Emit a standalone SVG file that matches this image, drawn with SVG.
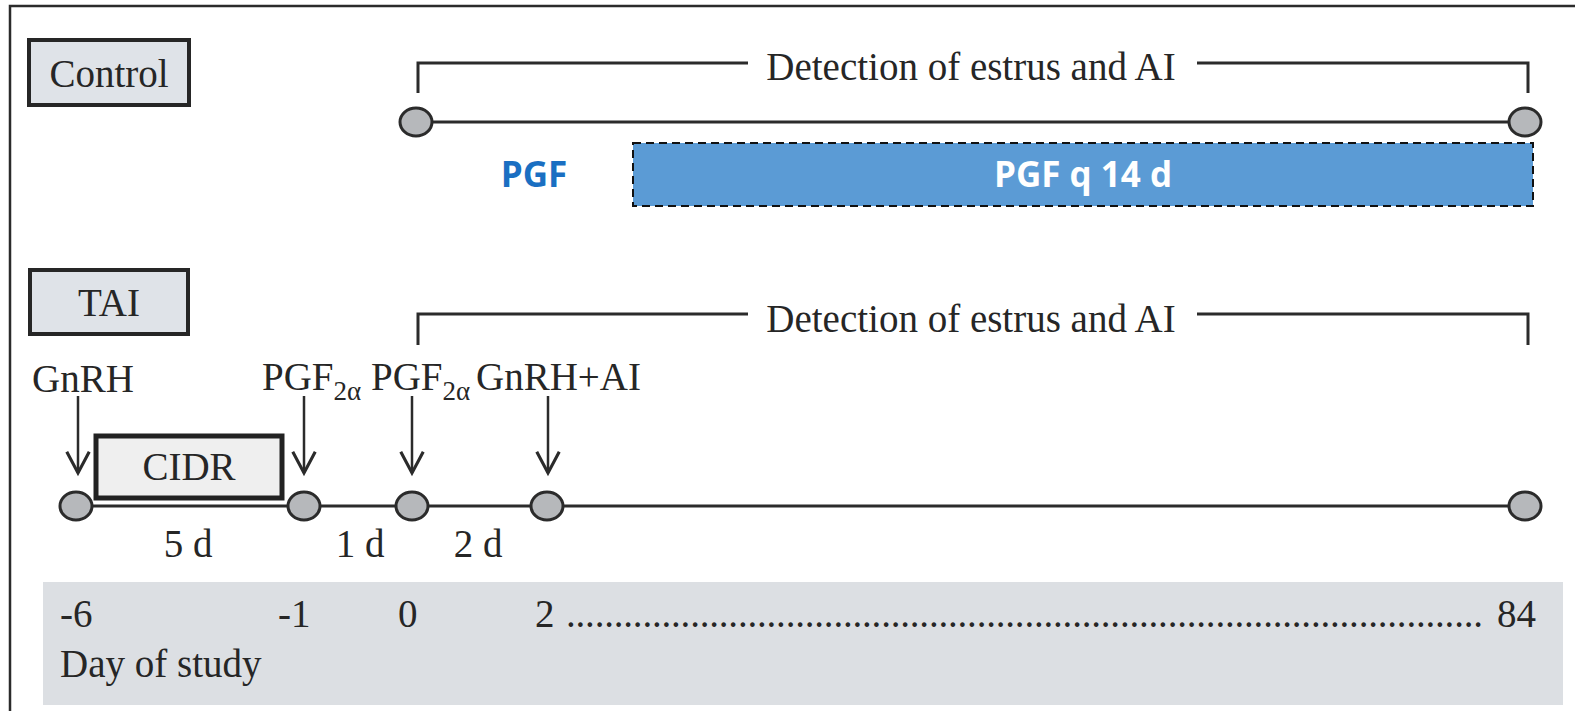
<svg xmlns="http://www.w3.org/2000/svg" width="1575" height="711" viewBox="0 0 1575 711">
<style>
  .serif { font-family: "Liberation Serif", "Times New Roman", serif; font-size: 39px; fill: #262626; }
  .label-box { fill: #dfe3e8; stroke: #262626; stroke-width: 4; }
  .pt { fill: #b6b8bb; stroke: #2b2b2b; stroke-width: 3; }
  .tl { stroke: #2b2b2b; stroke-width: 3; fill: none; }
  .br { stroke: #2b2b2b; stroke-width: 3; fill: none; }
  .arr { stroke: #2b2b2b; stroke-width: 2.5; fill: none; }
  .bold { font-family: "Open Sans", "Liberation Sans", sans-serif; font-weight: bold; font-size: 35px; }
</style>
<defs>
  <marker id="vhead" markerUnits="userSpaceOnUse" markerWidth="30" markerHeight="30" viewBox="-20 -12 24 24" refX="0" refY="0" orient="auto">
    <path d="M-17,-9 L0,0 L-17,9" fill="none" stroke="#2b2b2b" stroke-width="2.5"/>
  </marker>
</defs>
<rect x="0" y="0" width="1575" height="711" fill="#ffffff"/>
<!-- frame -->
<path d="M10,711 L10,6 L1575,6" fill="none" stroke="#2b2b2b" stroke-width="2.5"/>

<!-- connectors -->
<g id="connectors">
  <path class="br" d="M418,93 L418,63 L748,63"/>
  <path class="br" d="M1197,63 L1528,63 L1528,93"/>
  <line class="tl" x1="416" y1="122" x2="1525" y2="122"/>
  <path class="br" d="M418,345 L418,314 L748,314"/>
  <path class="br" d="M1197,314 L1528,314 L1528,345"/>
  <line class="tl" x1="76" y1="506" x2="1525" y2="506"/>
  <line class="arr" x1="78" y1="396" x2="78" y2="473" marker-end="url(#vhead)"/>
  <line class="arr" x1="304" y1="396" x2="304" y2="473" marker-end="url(#vhead)"/>
  <line class="arr" x1="412" y1="396" x2="412" y2="473" marker-end="url(#vhead)"/>
  <line class="arr" x1="548" y1="396" x2="548" y2="473" marker-end="url(#vhead)"/>
</g>

<!-- Control group -->
<g id="control-label">
  <rect class="label-box" x="29" y="40" width="160" height="65"/>
  <text class="serif" x="109" y="87" text-anchor="middle">Control</text>
</g>
<g id="control-detection">
  <text class="serif" x="971" y="80" text-anchor="middle">Detection of estrus and AI</text>
</g>
<g id="control-start"><ellipse class="pt" cx="416" cy="122" rx="16" ry="14"/></g>
<g id="control-end"><ellipse class="pt" cx="1525" cy="122" rx="16" ry="14"/></g>
<g id="control-pgf">
  <text class="bold" x="534" y="187" text-anchor="middle" fill="#1a6fc2">PGF</text>
</g>
<g id="control-pgf-q14">
  <rect x="633" y="143" width="900" height="63" fill="#5b9bd5" stroke="#111111" stroke-width="2" stroke-dasharray="8,5"/>
  <text class="bold" x="1083" y="187" text-anchor="middle" fill="#ffffff">PGF q 14 d</text>
</g>

<!-- TAI group -->
<g id="tai-label">
  <rect class="label-box" x="30" y="270" width="158" height="64"/>
  <text class="serif" x="109" y="316" text-anchor="middle">TAI</text>
</g>
<g id="tai-detection">
  <text class="serif" x="971" y="332" text-anchor="middle">Detection of estrus and AI</text>
</g>
<g id="tai-treatments">
  <text class="serif" x="32" y="392">GnRH</text>
  <text class="serif" x="262" y="390">PGF<tspan font-size="27" dy="10">2α</tspan></text>
  <text class="serif" x="371" y="390">PGF<tspan font-size="27" dy="10">2α</tspan></text>
  <text class="serif" x="476" y="390">GnRH+AI</text>
</g>
<g id="cidr">
  <rect x="96" y="436" width="186" height="62" fill="#efefef" stroke="#222222" stroke-width="5"/>
  <text class="serif" x="189" y="480" text-anchor="middle">CIDR</text>
</g>
<g id="tai-points">
  <ellipse class="pt" cx="76" cy="506" rx="16" ry="14"/>
  <ellipse class="pt" cx="304" cy="506" rx="16" ry="14"/>
  <ellipse class="pt" cx="412" cy="506" rx="16" ry="14"/>
  <ellipse class="pt" cx="547" cy="506" rx="16" ry="14"/>
  <ellipse class="pt" cx="1525" cy="506" rx="16" ry="14"/>
</g>
<g id="intervals">
  <text class="serif" x="188" y="557" text-anchor="middle">5 d</text>
  <text class="serif" x="360" y="557" text-anchor="middle">1 d</text>
  <text class="serif" x="478" y="557" text-anchor="middle">2 d</text>
</g>

<!-- day axis -->
<g id="day-axis">
  <rect x="43" y="582" width="1520" height="123" fill="#dcdfe3"/>
  <text class="serif" x="60" y="627">-6</text>
  <text class="serif" x="278" y="627">-1</text>
  <text class="serif" x="398" y="627">0</text>
  <text class="serif" x="535" y="627">2</text>
  <text class="serif" x="566" y="627" textLength="917" lengthAdjust="spacing">................................................................................................</text>
  <text class="serif" x="1536" y="627" text-anchor="end">84</text>
  <text class="serif" x="60" y="677">Day of study</text>
</g>
</svg>
